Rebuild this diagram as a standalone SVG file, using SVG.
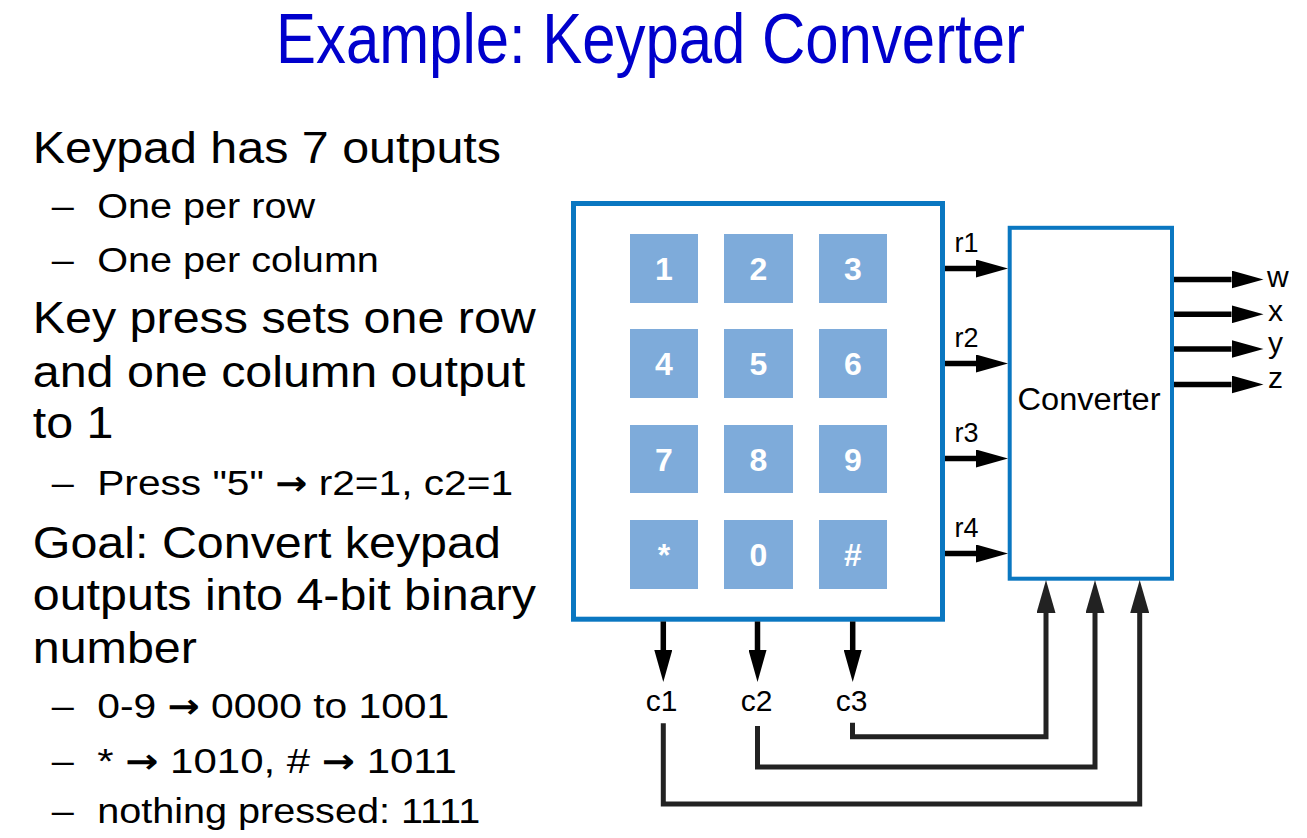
<svg xmlns="http://www.w3.org/2000/svg" width="1307" height="838" viewBox="0 0 1307 838">
  <style>
    text { font-family: "Liberation Sans", Arial, sans-serif; }
    .title { font-size: 71px; fill: #0000cc; }
    .main { font-size: 44px; fill: #000; }
    .sub { font-size: 36px; fill: #000; }
    .arr { font-family: "DejaVu Sans", sans-serif; font-weight: bold; font-size: 34px; }
    .key { fill: #7eabda; }
    .keylabel { font-size: 32px; font-weight: bold; fill: #fff; text-anchor: middle; }
    .box { fill: #fff; stroke: #0a77c1; }
    .sig { font-size: 27px; fill: #000; }
    .out { font-size: 30px; fill: #000; }
    .col { font-size: 30px; fill: #000; text-anchor: middle; }
    .wire { fill: none; stroke: #000; stroke-width: 5.5; }
    .ret { fill: none; stroke: #222; stroke-width: 5; stroke-linejoin: miter; }
  </style>
  <defs>
    <marker id="head" markerUnits="userSpaceOnUse" markerWidth="32" markerHeight="18" refX="0" refY="9" orient="auto">
      <path d="M0,0 L32,9 L0,18 z" fill="#000"/>
    </marker>
    <marker id="headRet" markerUnits="userSpaceOnUse" markerWidth="33" markerHeight="19" refX="0" refY="9.5" orient="auto">
      <path d="M0,0 L33,9.5 L0,19 z" fill="#222"/>
    </marker>
  </defs>

  <rect width="1307" height="838" fill="#fff"/>

  <!-- heading -->
  <text class="title" x="276" y="63" textLength="749" lengthAdjust="spacingAndGlyphs">Example: Keypad Converter</text>

  <!-- bullet text (slide font is slightly wide) -->
  <g id="bullets" transform="scale(1.1,1)">
    <text class="main" x="29.8" y="163.3">Keypad has 7 outputs</text>
    <text class="sub" x="47" y="218.3">–</text>
    <text class="sub" x="88.4" y="218.3">One per row</text>
    <text class="sub" x="47" y="271.7">–</text>
    <text class="sub" x="88.4" y="271.7">One per column</text>
    <text class="main" x="29.8" y="333.3">Key press sets one row</text>
    <text class="main" x="29.8" y="386.7">and one column output</text>
    <text class="main" x="29.8" y="438.3">to 1</text>
    <text class="sub" x="47" y="495">–</text>
    <text class="sub" x="88.4" y="495" textLength="378" lengthAdjust="spacingAndGlyphs">Press "5" <tspan class="arr">→</tspan> r2=1, c2=1</text>
    <text class="main" x="29.8" y="558.3">Goal: Convert keypad</text>
    <text class="main" x="29.8" y="610">outputs into 4-bit binary</text>
    <text class="main" x="29.8" y="662.7">number</text>
    <text class="sub" x="47" y="718.3">–</text>
    <text class="sub" x="88.4" y="718.3" textLength="320" lengthAdjust="spacingAndGlyphs">0-9 <tspan class="arr">→</tspan> 0000 to 1001</text>
    <text class="sub" x="47" y="773.3">–</text>
    <text class="sub" x="88.4" y="773.3" textLength="327" lengthAdjust="spacingAndGlyphs">* <tspan class="arr">→</tspan> 1010, # <tspan class="arr">→</tspan> 1011</text>
    <text class="sub" x="47" y="823.3">–</text>
    <text class="sub" x="88.4" y="823.3">nothing pressed: 1111</text>
  </g>

  <!-- keypad -->
  <g id="keypad">
    <rect class="box" x="573.5" y="203.5" width="369" height="415.7" stroke-width="5"/>
    <rect class="key" x="630" y="234" width="68" height="69"/>
    <rect class="key" x="724" y="234" width="69" height="69"/>
    <rect class="key" x="819" y="234" width="68" height="69"/>
    <rect class="key" x="630" y="329" width="68" height="69"/>
    <rect class="key" x="724" y="329" width="69" height="69"/>
    <rect class="key" x="819" y="329" width="68" height="69"/>
    <rect class="key" x="630" y="425" width="68" height="68"/>
    <rect class="key" x="724" y="425" width="69" height="68"/>
    <rect class="key" x="819" y="425" width="68" height="68"/>
    <rect class="key" x="630" y="520" width="68" height="69"/>
    <rect class="key" x="724" y="520" width="69" height="69"/>
    <rect class="key" x="819" y="520" width="68" height="69"/>
    <text class="keylabel" x="664" y="280">1</text>
    <text class="keylabel" x="758.5" y="280">2</text>
    <text class="keylabel" x="853" y="280">3</text>
    <text class="keylabel" x="664" y="375">4</text>
    <text class="keylabel" x="758.5" y="375">5</text>
    <text class="keylabel" x="853" y="375">6</text>
    <text class="keylabel" x="664" y="470.5">7</text>
    <text class="keylabel" x="758.5" y="470.5">8</text>
    <text class="keylabel" x="853" y="470.5">9</text>
    <text class="keylabel" x="664" y="566">*</text>
    <text class="keylabel" x="758.5" y="566">0</text>
    <text class="keylabel" x="853" y="566">#</text>
  </g>

  <!-- converter block -->
  <g id="converter">
    <rect class="box" x="1009.7" y="227.8" width="162.3" height="350.9" stroke-width="4"/>
    <text x="1017.5" y="410" font-size="31" textLength="143" lengthAdjust="spacingAndGlyphs">Converter</text>
  </g>

  <!-- wires -->
  <g id="connectors">
    <!-- row outputs r1..r4 -->
    <path class="wire" d="M945,268.5 H976" marker-end="url(#head)"/>
    <path class="wire" d="M945,363.5 H976" marker-end="url(#head)"/>
    <path class="wire" d="M945,458.5 H976" marker-end="url(#head)"/>
    <path class="wire" d="M945,553.5 H976" marker-end="url(#head)"/>
    <!-- converter outputs w..z -->
    <path class="wire" d="M1174,279.5 H1231.5" marker-end="url(#head)"/>
    <path class="wire" d="M1174,314.3 H1231.5" marker-end="url(#head)"/>
    <path class="wire" d="M1174,349 H1231.5" marker-end="url(#head)"/>
    <path class="wire" d="M1174,384.5 H1231.5" marker-end="url(#head)"/>
    <!-- column outputs c1..c3 -->
    <path class="wire" d="M663.3,621.5 V650" marker-end="url(#head)"/>
    <path class="wire" d="M757.5,621.5 V650" marker-end="url(#head)"/>
    <path class="wire" d="M852.7,621.5 V650" marker-end="url(#head)"/>
    <!-- columns routed back into the converter -->
    <path class="ret" d="M852.5,722.7 V736.7 H1046 V613" marker-end="url(#headRet)"/>
    <path class="ret" d="M757.5,726 V767 H1095 V613" marker-end="url(#headRet)"/>
    <path class="ret" d="M663.3,723.3 V804 H1139.7 V613" marker-end="url(#headRet)"/>
  </g>

  <!-- signal labels -->
  <g id="labels">
    <text class="sig" x="954.5" y="251.5">r1</text>
    <text class="sig" x="954.5" y="346.5">r2</text>
    <text class="sig" x="954.5" y="441.5">r3</text>
    <text class="sig" x="954.5" y="536.5">r4</text>
    <text class="out" x="1267" y="286.7">w</text>
    <text class="out" x="1268" y="321">x</text>
    <text class="out" x="1268" y="353.3">y</text>
    <text class="out" x="1268" y="388.3">z</text>
    <text class="col" x="661.5" y="711">c1</text>
    <text class="col" x="756.5" y="711">c2</text>
    <text class="col" x="851.5" y="711">c3</text>
  </g>
</svg>
